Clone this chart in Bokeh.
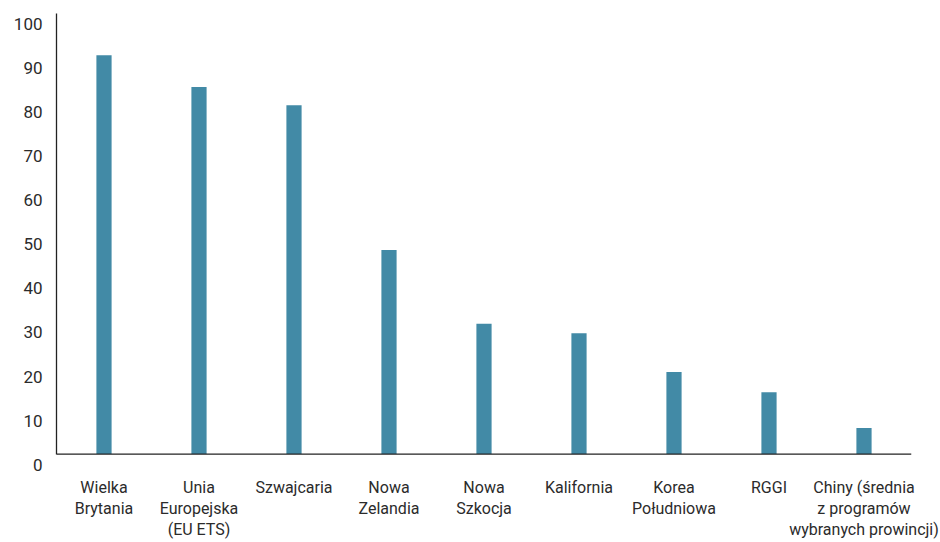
from bokeh.plotting import figure
from bokeh.models import Range1d, FactorRange, FixedTicker, ColumnDataSource, LinearAxis, Span
from bokeh.embed import file_html
from bokeh.resources import INLINE

categories = [
    "Wielka\nBrytania",
    "Unia\nEuropejska\n(EU ETS)",
    "Szwajcaria",
    "Nowa\nZelandia",
    "Nowa\nSzkocja",
    "Kalifornia",
    "Korea\nPołudniowa",
    "RGGI",
    "Chiny (średnia\nz programów\nwybranych prowincji)",
]
values = [90.5, 83.3, 79.2, 46.3, 29.6, 27.4, 18.6, 14.0, 5.9]
y_ticks = [0, 10, 20, 30, 40, 50, 60, 70, 80, 90, 100]

FONT = "Roboto"
TEXT_COLOR = "#2b2b2b"
BAR_COLOR = "#428aa6"
LINE_COLOR = "#222222"

Y_MIN = -2.6           # frame extends a little below the zero baseline
LABEL_SHIFT = 2.4      # tick labels hang slightly below their values

p = figure(
    width=940, height=542,
    x_range=FactorRange(*categories, range_padding=0),
    y_range=Range1d(Y_MIN, 100),
    output_backend="svg", toolbar_location=None,
    min_border_left=56, min_border_right=29, min_border_top=13, min_border_bottom=75,
)
p.outline_line_color = None
p.grid.grid_line_color = None
p.background_fill_color = "white"
p.border_fill_color = "white"

src = ColumnDataSource(dict(cat=categories, val=values))
p.vbar(x="cat", top="val", bottom=0, width=0.16, source=src, color=BAR_COLOR, line_color=None)

# zero baseline
p.add_layout(Span(location=0, dimension="width", line_color=LINE_COLOR, line_width=1.3))

# x axis (labels only)
xa = p.xaxis[0]
xa.axis_line_color = None
xa.major_tick_line_color = None
xa.minor_tick_line_color = None
xa.major_label_text_font = FONT
xa.major_label_text_font_size = "16px"
xa.major_label_text_color = TEXT_COLOR
xa.major_label_text_line_height = 1.12
xa.major_label_standoff = 6

# y axis line (0..100), no labels
ya = p.yaxis[0]
ya.ticker = FixedTicker(ticks=[])
ya.bounds = (0, 100)
ya.axis_line_color = LINE_COLOR
ya.axis_line_width = 1.3
ya.major_tick_line_color = None
ya.minor_tick_line_color = None
ya.major_label_standoff = 0

# y tick labels on a shifted range
p.extra_y_ranges = {"lab": Range1d(Y_MIN + LABEL_SHIFT, 100 + LABEL_SHIFT)}
yl = LinearAxis(y_range_name="lab", ticker=FixedTicker(ticks=y_ticks))
yl.axis_line_color = None
yl.major_tick_line_color = None
yl.minor_tick_line_color = None
yl.major_label_text_font = FONT
yl.major_label_text_font_size = "17px"
yl.major_label_text_color = TEXT_COLOR
yl.major_label_standoff = 8
p.add_layout(yl, "left")

open("out.html", "w").write(file_html(p, INLINE))
